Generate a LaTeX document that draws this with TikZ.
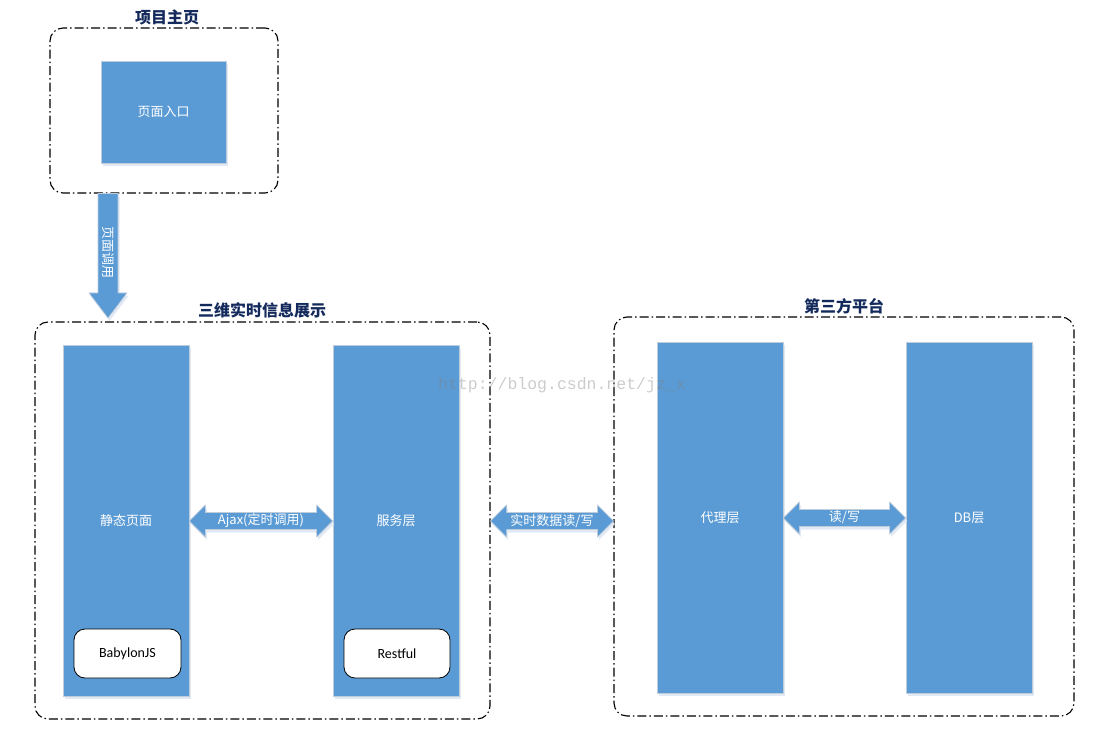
\documentclass[tikz,border=0pt]{standalone}
\usepackage{fontspec}
\setmainfont{Noto Sans CJK SC}
\newfontfamily\latfont{Carlito}
\newfontfamily\wmfont{Liberation Mono}
\usetikzlibrary{calc,shadows}
\definecolor{myblue}{HTML}{5B9BD5}
\definecolor{blueedge}{HTML}{BFCCDA}
\definecolor{shadowc}{HTML}{E1EAF4}
\definecolor{titlec}{HTML}{142A5C}
\tikzset{
  blk/.style={fill=myblue, draw=blueedge, line width=0.8pt, text=white, inner sep=0pt,
    font=\fontsize{13}{15}\selectfont,
    drop shadow={shadow xshift=2pt, shadow yshift=-3pt, fill=shadowc, opacity=1}},
  subbox/.style={fill=white, draw=black, line width=0.8pt, rounded corners=11pt, inner sep=0pt,
    minimum width=107pt, minimum height=49pt, font=\latfont\fontsize{14}{16}\selectfont},
  group/.style={draw=black, line width=1.1pt, rounded corners=13pt, inner sep=0pt,
    dash pattern=on 9pt off 3pt on 1.5pt off 3pt},
  grouptitle/.style={text=titlec, font=\bfseries\fontsize{16}{18}\selectfont, inner sep=0pt},
  arrowlabel/.style={text=white, font=\fontsize{13}{15}\selectfont, inner sep=0pt},
  arrowfill/.style={fill=myblue, draw=blueedge, line width=0.6pt,
    drop shadow={shadow xshift=1.5pt, shadow yshift=-3pt, fill=shadowc, opacity=1}}
}
\newcommand\hdarrow[3]{%
  \path[arrowfill] let \p1=(#1.east), \p2=(#2.west) in
    (\x1,#3) -- (\x1+16pt,#3-16) -- (\x1+16pt,#3-8.5) -- (\x2-16pt,#3-8.5) -- (\x2-16pt,#3-16)
    -- (\x2,#3) -- (\x2-16pt,#3+16) -- (\x2-16pt,#3+8.5) -- (\x1+16pt,#3+8.5) -- (\x1+16pt,#3+16) -- cycle;}
\begin{document}
\begin{tikzpicture}[x=1pt,y=-1pt]
\useasboundingbox (0,0) rectangle (1106,751);

% groups
\node[group, minimum width=228pt, minimum height=165pt] (g1) at (164,110.5) {};
\node[group, minimum width=455pt, minimum height=397pt] (g2) at (262.5,520.5) {};
\node[group, minimum width=460pt, minimum height=399pt] (g3) at (844,516.5) {};

\node[grouptitle] (t1) at (167,17) {项目主页};
\node[grouptitle] (t2) at (262,310) {三维实时信息展示};
\node[grouptitle] (t3) at (844,306) {第三方平台};

% blocks
\node[blk, minimum width=125pt, minimum height=102pt] (entry) at (163.5,112) {页面入口};
\node[blk, minimum width=126pt, minimum height=351pt] (static) at (126,520.5) {静态页面};
\node[blk, minimum width=126pt, minimum height=351pt] (service) at (396,520.5) {服务层};
\node[blk, minimum width=126pt, minimum height=351pt] (proxy) at (720,517.5) {代理层};
\node[blk, minimum width=126pt, minimum height=351pt] (db) at (969,517.5) {DB层};

\node[subbox] (babylon) at (127.5,653.5) {BabylonJS};
\node[subbox, minimum width=106pt] (restful) at (397,653.5) {Restful};

% down arrow
\path[arrowfill] let \p1=(g1.south), \p2=(g2.north) in
  (98,\y1) -- (118,\y1) -- (118,293) -- (127,293) -- (108,318) -- (89,293) -- (98,293) -- cycle;
\node[arrowlabel, rotate=-90] (l0) at (108,253) {页面调用};

% horizontal double arrows
\hdarrow{static}{service}{521}
\node[arrowlabel] (l1) at (261,521) {Ajax(定时调用)};
\hdarrow{g2}{g3}{521}
\node[arrowlabel] (l2) at (552,521) {实时数据读/写};
\hdarrow{proxy}{db}{518}
\node[arrowlabel] (l3) at (844.5,517) {读/写};

% watermark
\node[text=gray, opacity=0.4, font=\wmfont\fontsize{16.5}{18}\selectfont, inner sep=0pt] (wm) at (562,385) {http://blog.csdn.net/jz\_x};
\end{tikzpicture}
\end{document}
